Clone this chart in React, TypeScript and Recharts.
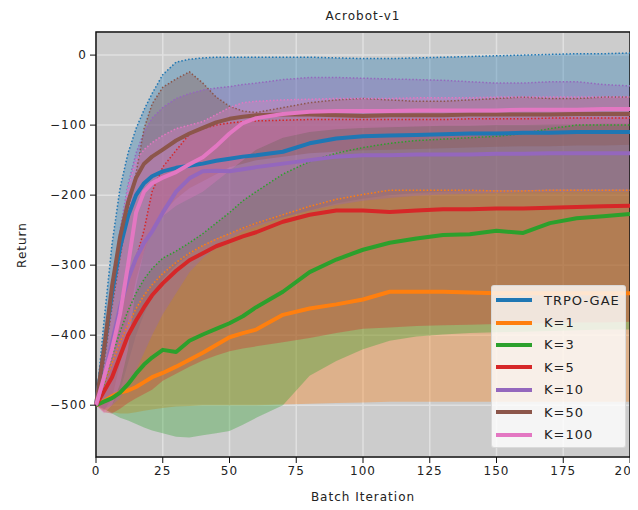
import {
  Area,
  CartesianGrid,
  ComposedChart,
  Line,
  ReferenceArea,
  XAxis,
  YAxis,
} from 'recharts';

const iters = [0, 3, 6, 9, 12, 15, 18, 21, 25, 30, 35, 40, 45, 50, 55, 60, 70, 80, 90, 100, 110, 120, 130, 140, 150, 160, 170, 180, 190, 200];

const trpoMean = [-500, -420, -340, -275, -230, -200, -183, -173, -166, -161, -158, -155, -151, -148, -145, -143, -138, -126, -119, -116, -115, -114, -113, -112, -112, -111, -111, -110, -110, -110];
const trpoLo = [-500, -505, -500, -480, -440, -400, -370, -345, -320, -300, -285, -272, -262, -255, -248, -242, -232, -222, -212, -205, -200, -197, -195, -194, -193, -193, -192, -192, -192, -192];
const trpoHi = [-500, -380, -270, -190, -140, -105, -78, -55, -28, -10, -6, -4, -3, -3, -3, -3, -3, -3, -4, -5, -5, -4, -3, -2, -1, 0, 1, 2, 2, 3];

const k1Mean = [-500, -494, -487, -482, -479, -474, -467, -460, -454, -445, -435, -425, -414, -403, -397, -392, -371, -362, -356, -349, -338, -338, -338, -339, -340, -340, -340, -340, -340, -340];
const k1Lo = [-500, -506, -510, -512, -512, -510, -508, -506, -504, -502, -501, -500, -500, -500, -500, -500, -499, -498, -497, -496, -495, -495, -495, -495, -495, -495, -495, -495, -495, -495];
const k1Hi = [-500, -470, -440, -410, -385, -362, -343, -328, -312, -296, -283, -272, -263, -255, -247, -240, -228, -216, -206, -199, -193, -193, -193, -193, -194, -194, -193, -193, -193, -193];

const k3Mean = [-500, -495, -490, -482, -470, -455, -442, -432, -421, -424, -408, -399, -391, -383, -373, -360, -338, -310, -292, -278, -268, -262, -257, -256, -251, -254, -240, -233, -230, -227];
const k3Lo = [-500, -505, -512, -518, -522, -527, -532, -536, -540, -545, -546, -543, -540, -537, -528, -518, -500, -458, -437, -420, -408, -402, -399, -397, -396, -395, -394, -393, -392, -392];
const k3Hi = [-500, -470, -430, -395, -365, -340, -320, -305, -290, -280, -268, -255, -240, -225, -208, -195, -170, -152, -140, -132, -126, -122, -120, -118, -116, -112, -105, -100, -100, -100];

const k5Mean = [-500, -480, -460, -430, -400, -379, -360, -343, -326, -308, -293, -283, -273, -266, -259, -253, -238, -228, -222, -222, -224, -222, -220, -220, -219, -219, -218, -217, -216, -215];
const k5Lo = [-500, -510, -512, -505, -497, -490, -484, -478, -465, -455, -445, -436, -429, -423, -419, -416, -410, -404, -397, -391, -389, -387, -386, -385, -384, -383, -383, -382, -382, -381];
const k5Hi = [-500, -460, -410, -360, -320, -290, -250, -195, -160, -136, -113, -105, -100, -97, -95, -94, -93, -92, -92, -92, -92, -92, -92, -91, -91, -91, -90, -90, -90, -90];

const k10Mean = [-500, -460, -410, -360, -320, -290, -268, -252, -225, -195, -176, -166, -165, -166, -163, -160, -155, -150, -145, -143, -143, -142, -142, -142, -141, -141, -140, -140, -140, -140];
const k10Lo = [-500, -505, -500, -490, -470, -450, -425, -400, -370, -340, -310, -290, -275, -262, -252, -245, -232, -222, -214, -208, -204, -201, -199, -198, -197, -196, -196, -195, -195, -195];
const k10Hi = [-500, -420, -330, -250, -185, -140, -110, -90, -75, -62, -55, -50, -47, -45, -42, -40, -35, -32, -32, -33, -34, -35, -36, -38, -40, -40, -38, -38, -42, -44];

const k50Mean = [-500, -420, -330, -260, -210, -175, -155, -145, -135, -122, -112, -104, -96, -91, -88, -86, -85, -85, -86, -87, -86, -86, -86, -85, -85, -85, -85, -84, -84, -84];
const k50Lo = [-500, -508, -490, -440, -380, -320, -280, -250, -225, -205, -190, -180, -170, -160, -155, -150, -145, -140, -138, -136, -135, -134, -133, -132, -131, -130, -130, -129, -129, -128];
const k50Hi = [-500, -440, -360, -290, -220, -169, -105, -70, -46, -34, -24, -40, -60, -73, -80, -82, -75, -68, -64, -62, -64, -66, -66, -64, -62, -60, -62, -62, -60, -60];

const k100Mean = [-500, -460, -420, -370, -300, -225, -195, -183, -175, -167, -156, -146, -130, -112, -97, -90, -84, -81, -80, -80, -80, -79, -79, -79, -79, -78, -78, -78, -77, -77];
const k100Lo = [-500, -512, -500, -470, -420, -330, -280, -250, -230, -215, -205, -195, -180, -165, -150, -135, -118, -110, -106, -104, -103, -102, -101, -101, -100, -100, -99, -99, -98, -98];
const k100Hi = [-500, -420, -340, -270, -190, -150, -135, -125, -115, -105, -100, -95, -85, -75, -68, -66, -64, -63, -62, -62, -62, -61, -61, -61, -60, -60, -60, -60, -60, -60];

const xTicks = [0, 25, 50, 75, 100, 125, 150, 175, 200];
const yTicks = [-500, -400, -300, -200, -100, 0];

const series = [
  { key: 'trpo', name: 'TRPO-GAE', color: '#1f77b4', mean: trpoMean, lo: trpoLo, hi: trpoHi },
  { key: 'k1', name: 'K=1', color: '#ff7f0e', mean: k1Mean, lo: k1Lo, hi: k1Hi },
  { key: 'k3', name: 'K=3', color: '#2ca02c', mean: k3Mean, lo: k3Lo, hi: k3Hi },
  { key: 'k5', name: 'K=5', color: '#d62728', mean: k5Mean, lo: k5Lo, hi: k5Hi },
  { key: 'k10', name: 'K=10', color: '#9467bd', mean: k10Mean, lo: k10Lo, hi: k10Hi },
  { key: 'k50', name: 'K=50', color: '#8c564b', mean: k50Mean, lo: k50Lo, hi: k50Hi },
  { key: 'k100', name: 'K=100', color: '#e377c2', mean: k100Mean, lo: k100Lo, hi: k100Hi },
];

const data = iters.map((x, i) => {
  const row: Record<string, number | number[]> = { x };
  series.forEach((s) => {
    row[s.key] = s.mean[i];
    row[s.key + 'Band'] = [s.lo[i], s.hi[i]];
    row[s.key + 'Hi'] = s.hi[i];
  });
  return row;
});

const Y_MIN = -574;
const Y_MAX = 33;
const minus = (v: number) => String(v).replace('-', '\u2212');
const tickStyle = { fontSize: 12, fill: '#222', letterSpacing: 1 };

export default function App() {
  return (
    <div
      style={{
        position: 'relative',
        width: 630,
        height: 502,
        fontFamily: '"DejaVu Sans", sans-serif',
        color: '#222',
      }}
    >
      <div
        style={{
          position: 'absolute',
          left: 88,
          width: 534,
          top: 0,
          textAlign: 'center',
          fontSize: 12,
          lineHeight: '16px',
          letterSpacing: 1,
        }}
      >
        Acrobot-v1
      </div>
      <ComposedChart
        width={630}
        height={502}
        data={data}
        margin={{ top: 24, right: 8, bottom: 23, left: 28 }}
      >
        <CartesianGrid fill="#cccccc" horizontal={false} vertical={false} />
        {series.map((s) => (
          <Area
            key={s.key + 'Band'}
            dataKey={s.key + 'Band'}
            type="linear"
            stroke="none"
            fill={s.color}
            fillOpacity={0.34}
            isAnimationActive={false}
            activeDot={false}
          />
        ))}
        <CartesianGrid stroke="#e0e0e0" strokeWidth={1.5} />
        {series.map((s) => (
          <Line
            key={s.key + 'Hi'}
            dataKey={s.key + 'Hi'}
            type="linear"
            stroke={s.color}
            strokeWidth={1.5}
            strokeDasharray="1.5 2"
            dot={false}
            activeDot={false}
            isAnimationActive={false}
          />
        ))}
        {series.map((s) => (
          <Line
            key={s.key}
            dataKey={s.key}
            type="linear"
            stroke={s.color}
            strokeWidth={4}
            strokeLinejoin="round"
            dot={false}
            activeDot={false}
            isAnimationActive={false}
          />
        ))}
        <ReferenceArea
          x1={0}
          x2={200}
          y1={Y_MIN}
          y2={Y_MAX}
          fill="none"
          stroke="#111"
          strokeWidth={1.5}
        />
        <XAxis
          dataKey="x"
          type="number"
          domain={[0, 200]}
          ticks={xTicks}
          height={30}
          axisLine={false}
          tickSize={6}
          tickMargin={3}
          tickLine={{ stroke: '#111' }}
          tick={tickStyle}
        />
        <YAxis
          type="number"
          domain={[Y_MIN, Y_MAX]}
          ticks={yTicks}
          width={60}
          axisLine={false}
          tickSize={6}
          tickMargin={3}
          tickLine={{ stroke: '#111' }}
          tick={tickStyle}
          tickFormatter={minus}
        />
      </ComposedChart>
      <div
        style={{
          position: 'absolute',
          left: 355,
          top: 489,
          transform: 'translate(-50%, -50%)',
          fontSize: 12,
          letterSpacing: 1,
          whiteSpace: 'nowrap',
        }}
      >
        Batch Iteration
      </div>
      <div
        style={{
          position: 'absolute',
          left: 14,
          top: 237,
          transform: 'translate(-50%, -50%) rotate(-90deg)',
          fontSize: 12,
          letterSpacing: 1,
          whiteSpace: 'nowrap',
        }}
      >
        Return
      </div>
      <div
        style={{
          position: 'absolute',
          left: 483,
          top: 277,
          width: 135,
          height: 163,
          boxSizing: 'border-box',
          background: 'rgba(255,255,255,0.8)',
          border: '1px solid rgba(215,215,215,0.9)',
          borderRadius: 3,
          paddingTop: 3,
        }}
      >
        {series.map((s) => (
          <div key={s.key} style={{ display: 'flex', alignItems: 'center', height: 22.4 }}>
            <div style={{ marginLeft: 4, width: 36, height: 4, background: s.color }} />
            <div style={{ marginLeft: 12, fontSize: 13, letterSpacing: 1 }}>{s.name}</div>
          </div>
        ))}
      </div>
    </div>
  );
}
